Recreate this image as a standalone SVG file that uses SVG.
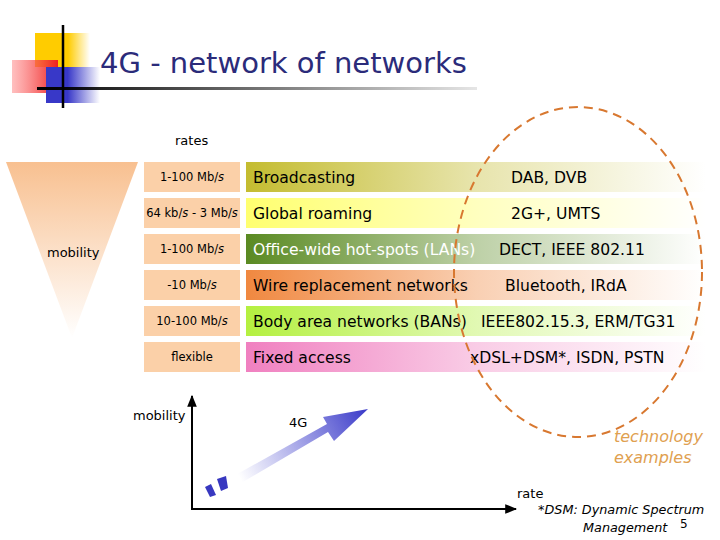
<svg xmlns="http://www.w3.org/2000/svg" width="720" height="540" viewBox="0 0 720 540">
<defs>
<style>
.t{font-family:"DejaVu Sans","Liberation Sans",sans-serif;fill:#000}
.rate{font-size:11.5px;text-anchor:middle}
.bar{font-size:15.6px}
.it{font-style:italic}
.rbox{fill:#fbd0a8}
</style>
<linearGradient id="g1" x1="0" x2="1"><stop offset="0" stop-color="#c4bc30"/><stop offset="0.5" stop-color="#c4bc30" stop-opacity="0.4"/><stop offset="1" stop-color="#c4bc30" stop-opacity="0"/></linearGradient>
<linearGradient id="g2" x1="0" x2="1"><stop offset="0" stop-color="#ffff70"/><stop offset="0.5" stop-color="#ffff70" stop-opacity="0.45"/><stop offset="1" stop-color="#ffff70" stop-opacity="0"/></linearGradient>
<linearGradient id="g3" x1="0" x2="1"><stop offset="0" stop-color="#5a8a22"/><stop offset="0.5" stop-color="#5a8a22" stop-opacity="0.4"/><stop offset="1" stop-color="#5a8a22" stop-opacity="0"/></linearGradient>
<linearGradient id="g4" x1="0" x2="1"><stop offset="0" stop-color="#f08840"/><stop offset="0.5" stop-color="#f08840" stop-opacity="0.4"/><stop offset="1" stop-color="#f08840" stop-opacity="0"/></linearGradient>
<linearGradient id="g5" x1="0" x2="1"><stop offset="0" stop-color="#b4f040"/><stop offset="0.5" stop-color="#b4f040" stop-opacity="0.4"/><stop offset="1" stop-color="#b4f040" stop-opacity="0"/></linearGradient>
<linearGradient id="g6" x1="0" x2="1"><stop offset="0" stop-color="#f080c0"/><stop offset="0.5" stop-color="#f080c0" stop-opacity="0.4"/><stop offset="1" stop-color="#f080c0" stop-opacity="0"/></linearGradient>
<linearGradient id="tri" x1="0" y1="0" x2="0" y2="1"><stop offset="0" stop-color="#f8c090"/><stop offset="1" stop-color="#f8c090" stop-opacity="0"/></linearGradient>
<linearGradient id="yel" x1="0" x2="1"><stop offset="0.6" stop-color="#ffcc00"/><stop offset="1" stop-color="#ffcc00" stop-opacity="0"/></linearGradient>
<linearGradient id="red" x1="0" x2="1"><stop offset="0" stop-color="#ff8080" stop-opacity="0.5"/><stop offset="1" stop-color="#ee2020"/></linearGradient>
<linearGradient id="blu" x1="0" x2="1"><stop offset="0.4" stop-color="#3838c8"/><stop offset="1" stop-color="#3838c8" stop-opacity="0"/></linearGradient>
<linearGradient id="hl" x1="0" x2="1"><stop offset="0" stop-color="#000"/><stop offset="1" stop-color="#000" stop-opacity="0.1"/></linearGradient>
<linearGradient id="arr" gradientUnits="userSpaceOnUse" x1="240" y1="478" x2="368" y2="409"><stop offset="0" stop-color="#4848d0" stop-opacity="0"/><stop offset="1" stop-color="#3838c8"/></linearGradient>
<marker id="ah" viewBox="0 0 10 10" refX="9" refY="5" markerWidth="6" markerHeight="6" orient="auto"><path d="M0,1 L10,5 L0,9 z" fill="#000"/></marker>
</defs>
<rect width="720" height="540" fill="#fff"/>

<g id="logo">
<rect x="35" y="33" width="55" height="34" fill="url(#yel)"/>
<rect x="12" y="60" width="46" height="33" fill="url(#red)"/>
<rect x="46" y="67" width="54" height="36" fill="url(#blu)"/>
<line x1="63" y1="25" x2="63" y2="108" stroke="#000" stroke-width="2.5"/>
<rect x="37" y="87" width="440" height="3" fill="url(#hl)"/>
</g>
<text id="title" class="t" x="100" y="73" font-size="29" style="fill:#2b2b7a">4G - network of networks</text>

<text class="t" x="175" y="145" font-size="13">rates</text>

<g id="triangle">
<polygon points="6,162 138,162 72,338" fill="url(#tri)"/>
<text class="t" x="47" y="257" font-size="13">mobility</text>
</g>

<g id="rates">
<rect class="rbox" x="144" y="162" width="96" height="30"/>
<rect class="rbox" x="144" y="198" width="96" height="30"/>
<rect class="rbox" x="144" y="234" width="96" height="30"/>
<rect class="rbox" x="144" y="270" width="96" height="30"/>
<rect class="rbox" x="144" y="306" width="96" height="30"/>
<rect class="rbox" x="144" y="342" width="96" height="30"/>
<text class="t rate" x="192" y="181">1-100 Mb/<tspan class="it">s</tspan></text>
<text class="t rate" x="192" y="217">64 kb/<tspan class="it">s</tspan> - 3 Mb/<tspan class="it">s</tspan></text>
<text class="t rate" x="192" y="253">1-100 Mb/<tspan class="it">s</tspan></text>
<text class="t rate" x="192" y="289">-10 Mb/<tspan class="it">s</tspan></text>
<text class="t rate" x="192" y="325">10-100 Mb/<tspan class="it">s</tspan></text>
<text class="t rate" x="192" y="361">flexible</text>
</g>

<g id="bars">
<rect x="246" y="162" width="460" height="30" fill="url(#g1)"/>
<rect x="246" y="198" width="460" height="30" fill="url(#g2)"/>
<rect x="246" y="234" width="460" height="30" fill="url(#g3)"/>
<rect x="246" y="270" width="460" height="30" fill="url(#g4)"/>
<rect x="246" y="306" width="460" height="30" fill="url(#g5)"/>
<rect x="246" y="342" width="460" height="30" fill="url(#g6)"/>
<text class="t bar" x="253" y="183">Broadcasting</text>
<text class="t bar" x="511" y="183">DAB, DVB</text>
<text class="t bar" x="253" y="219">Global roaming</text>
<text class="t bar" x="511" y="219">2G+, UMTS</text>
<text class="t bar" x="253" y="255" style="fill:#fff">Office-wide hot-spots (LANs)</text>
<text class="t bar" x="499" y="255">DECT, IEEE 802.11</text>
<text class="t bar" x="253" y="291">Wire replacement networks</text>
<text class="t bar" x="505" y="291">Bluetooth, IRdA</text>
<text class="t bar" x="253" y="327">Body area networks (BANs)</text>
<text class="t bar" x="481" y="327">IEEE802.15.3, ERM/TG31</text>
<text class="t bar" x="253" y="363">Fixed access</text>
<text class="t bar" x="470" y="363">xDSL+DSM*, ISDN, PSTN</text>
</g>

<g id="ellipse">
<ellipse cx="578" cy="272" rx="124" ry="165" fill="none" stroke="#d87830" stroke-width="2" stroke-dasharray="9,6"/>
<text class="t it" x="614" y="442" font-size="16" style="fill:#e0a050">technology</text>
<text class="t it" x="614" y="463" font-size="16" style="fill:#e0a050">examples</text>
</g>

<g id="connectors">
<line x1="192" y1="509" x2="192" y2="396" stroke="#000" stroke-width="2" marker-end="url(#ah)"/>
<line x1="191" y1="509" x2="516" y2="509" stroke="#000" stroke-width="2" marker-end="url(#ah)"/>
<polygon points="236,486 328,432 334,441 368,409 323,417 327,424 232,477" fill="url(#arr)"/>
<polygon points="205,487 211,484 216,495 210,497" fill="#3838c0"/>
<polygon points="217,479 226,476 228,488 221,491" fill="#3838c0"/>
</g>

<g id="labels">
<text class="t" x="133" y="420" font-size="13">mobility</text>
<text class="t" x="289" y="427" font-size="13">4G</text>
<text class="t" x="517" y="498" font-size="13">rate</text>
<text class="t it" x="538" y="514" font-size="12.8">*DSM: Dynamic Spectrum</text>
<text class="t it" x="583" y="532" font-size="12.8">Management</text>
<text class="t" x="680" y="528" font-size="12">5</text>
</g>
</svg>
